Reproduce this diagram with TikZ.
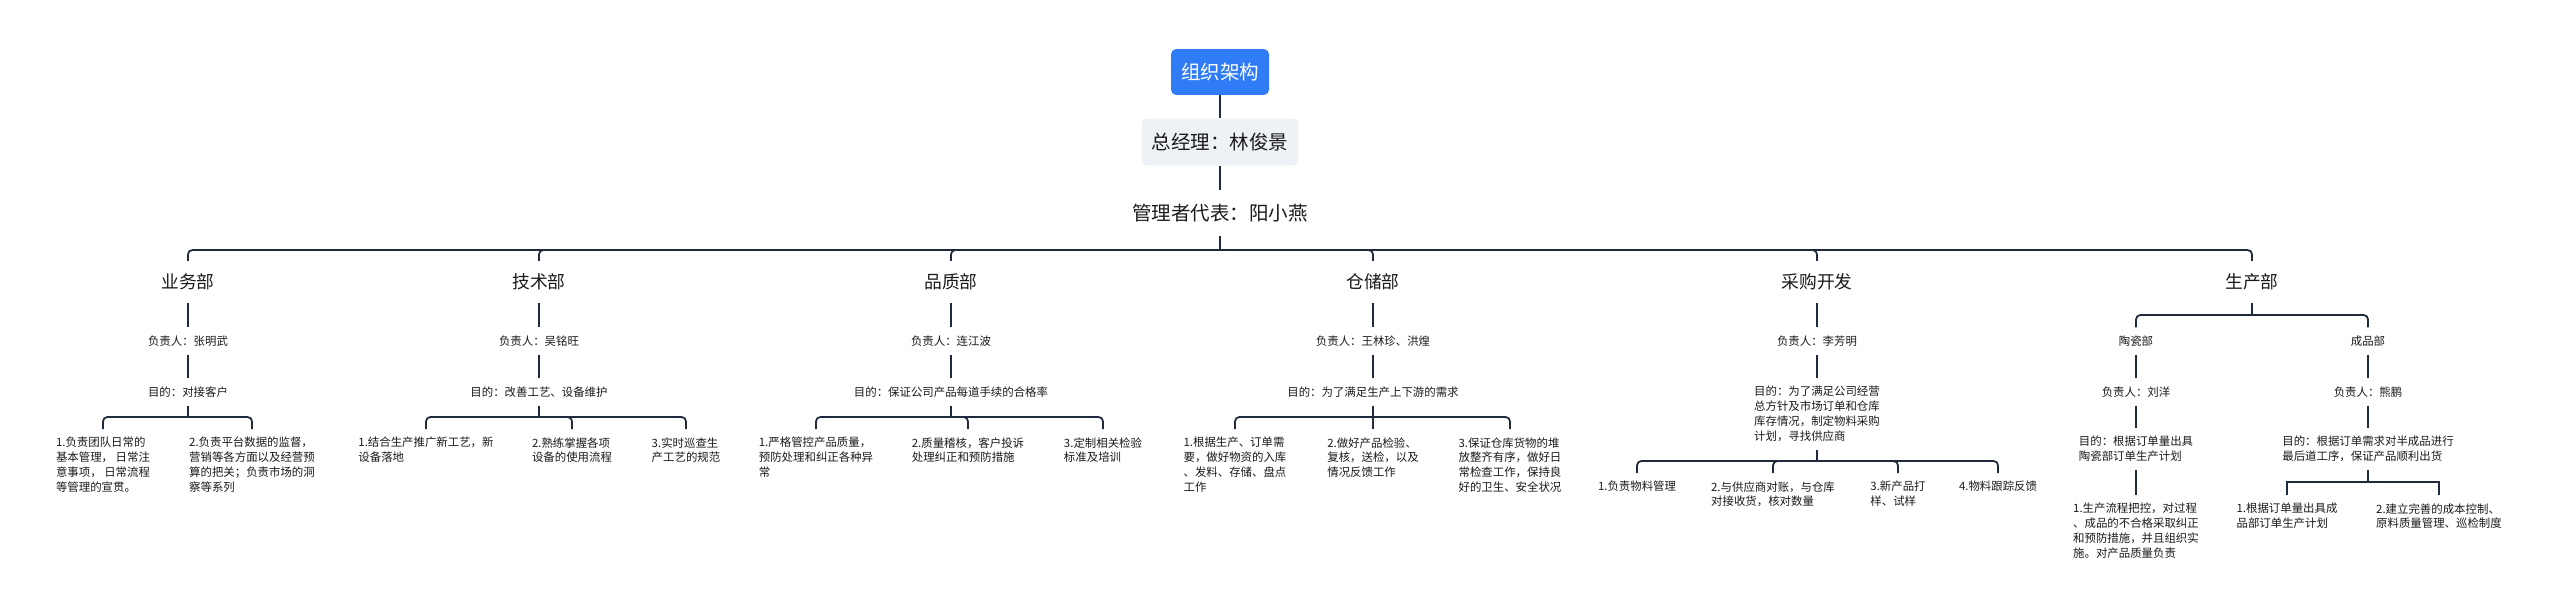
\documentclass[tikz,border=0pt]{standalone}
\usepackage{fontspec}
\newfontfamily\cjk{Noto Sans CJK SC}
\usetikzlibrary{positioning}
\definecolor{orgBlue}{HTML}{2F7CF6}
\definecolor{orgGray}{HTML}{EEF1F5}
\definecolor{orgLine}{HTML}{1F2A3C}
\definecolor{orgText}{HTML}{1A1A1A}
\newcommand{\orgBig}{\cjk\fontsize{11.1pt}{13pt}\selectfont}
\newcommand{\orgDept}{\cjk\fontsize{10.1pt}{12pt}\selectfont}
\newcommand{\orgSmall}{\cjk\fontsize{6.5pt}{8.5pt}\selectfont}

\begin{document}
\begin{tikzpicture}[
  x=0.02cm, y=-0.02cm,
  font=\orgSmall, text=orgText,
  conn/.style={draw=orgLine, line width=1pt},
  trunk/.style={draw=orgLine, line width=1.4pt},
  elbow/.style={conn, rounded corners=2.5pt},
  topbox/.style={fill=orgBlue, text=white, rounded corners=3pt, font=\orgBig, minimum width=1.96cm, minimum height=0.92cm},
  gmbox/.style={fill=orgGray, rounded corners=3pt, font=\orgBig, minimum width=3.14cm, minimum height=0.94cm},
  reptext/.style={font=\orgBig, inner ysep=0.27cm},
  depttext/.style={font=\orgDept, inner ysep=0.25cm},
  infotext/.style={font=\orgSmall, inner ysep=0.16cm},
  goaltext/.style={infotext, align=left, anchor=north},
  itemtext/.style={font=\orgSmall, inner ysep=0.16cm, align=left, anchor=north}
]

  \fill[white] (0,0) rectangle (2560,615);
  \useasboundingbox (0,0) rectangle (2560,615);

  % top of the chart
  \node[topbox] (root) at (1220,72) {组织架构};
  \node[gmbox] (gm) at (1220,142) {总经理：林俊景};
  \node[reptext] (rep) at (1220,213) {管理者代表：阳小燕};
  \coordinate (hub) at (1220,250);
  \draw[trunk] (root) -- (gm);
  \draw[trunk] (gm) -- (rep);
  \draw[conn] (rep) -- (hub);

  % departments
  \node[depttext] (yewu) at (188,282) {业务部};
  \node[depttext] (jishu) at (539,282) {技术部};
  \node[depttext] (pinzhi) at (951,282) {品质部};
  \node[depttext] (cangchu) at (1373,282) {仓储部};
  \node[depttext] (caigou) at (1817,282) {采购开发};
  \node[depttext] (shengchan) at (2252,282) {生产部};
  \foreach \d in {yewu,jishu,pinzhi,cangchu,caigou,shengchan}
    \draw[elbow] (hub) -| (\d.north);

  % 业务部
  \node[infotext] (yewuOwner) at (188,341) {负责人：张明武};
  \node[infotext] (yewuGoal) at (188,392) {目的：对接客户};
  \coordinate (yewuBar) at (188,417);
  \draw[conn] (yewu) -- (yewuOwner);
  \draw[conn] (yewuOwner) -- (yewuGoal);
  \draw[conn] (yewuGoal) -- (yewuBar);
  \node[itemtext] (yewuA) at (103,429) {1.负责团队日常的\\基本管理， 日常注\\意事项， 日常流程\\等管理的宣贯。};
  \node[itemtext] (yewuB) at (252,429) {2.负责平台数据的监督，\\营销等各方面以及经营预\\算的把关；负责市场的洞\\察等系列};
  \foreach \c in {yewuA,yewuB}
    \draw[elbow] (yewuBar) -| (\c.north);

  % 技术部
  \node[infotext] (jishuOwner) at (539,341) {负责人：吴铭旺};
  \node[infotext] (jishuGoal) at (539,392) {目的：改善工艺、设备维护};
  \coordinate (jishuBar) at (539,417);
  \draw[conn] (jishu) -- (jishuOwner);
  \draw[conn] (jishuOwner) -- (jishuGoal);
  \draw[conn] (jishuGoal) -- (jishuBar);
  \node[itemtext] (jishuA) at (426,429) {1.结合生产推广新工艺，新\\设备落地};
  \node[itemtext] (jishuB) at (572,429) {2.熟练掌握各项\\设备的使用流程};
  \node[itemtext] (jishuC) at (686,429) {3.实时巡查生\\产工艺的规范};
  \foreach \c in {jishuA,jishuB,jishuC}
    \draw[elbow] (jishuBar) -| (\c.north);

  % 品质部
  \node[infotext] (pinzhiOwner) at (951,341) {负责人：连江波};
  \node[infotext] (pinzhiGoal) at (951,392) {目的：保证公司产品每道手续的合格率};
  \coordinate (pinzhiBar) at (951,417);
  \draw[conn] (pinzhi) -- (pinzhiOwner);
  \draw[conn] (pinzhiOwner) -- (pinzhiGoal);
  \draw[conn] (pinzhiGoal) -- (pinzhiBar);
  \node[itemtext] (pinzhiA) at (816,429) {1.严格管控产品质量，\\预防处理和纠正各种异\\常};
  \node[itemtext] (pinzhiB) at (968,429) {2.质量稽核，客户投诉\\处理纠正和预防措施};
  \node[itemtext] (pinzhiC) at (1103,429) {3.定制相关检验\\标准及培训};
  \foreach \c in {pinzhiA,pinzhiB,pinzhiC}
    \draw[elbow] (pinzhiBar) -| (\c.north);

  % 仓储部
  \node[infotext] (cangchuOwner) at (1373,341) {负责人：王林珍、洪煌};
  \node[infotext] (cangchuGoal) at (1373,392) {目的：为了满足生产上下游的需求};
  \coordinate (cangchuBar) at (1373,417);
  \draw[conn] (cangchu) -- (cangchuOwner);
  \draw[conn] (cangchuOwner) -- (cangchuGoal);
  \draw[conn] (cangchuGoal) -- (cangchuBar);
  \node[itemtext] (cangchuA) at (1235,429) {1.根据生产、订单需\\要，做好物资的入库\\、发料、存储、盘点\\工作};
  \node[itemtext] (cangchuB) at (1373,429) {2.做好产品检验、\\复核，送检，以及\\情况反馈工作};
  \node[itemtext] (cangchuC) at (1510,429) {3.保证仓库货物的堆\\放整齐有序，做好日\\常检查工作，保持良\\好的卫生、安全状况};
  \draw[elbow] (cangchuBar) -| (cangchuA.north);
  \draw[conn] (cangchuBar) -- (cangchuB.north);
  \draw[elbow] (cangchuBar) -| (cangchuC.north);

  % 采购开发
  \node[infotext] (caigouOwner) at (1817,341) {负责人：李芳明};
  \node[goaltext] (caigouGoal) at (1817,378) {目的：为了满足公司经营\\总方针及市场订单和仓库\\库存情况，制定物料采购\\计划，寻找供应商};
  \coordinate (caigouBar) at (1817,461);
  \draw[conn] (caigou) -- (caigouOwner);
  \draw[conn] (caigouOwner) -- (caigouGoal);
  \draw[conn] (caigouGoal) -- (caigouBar);
  \node[itemtext] (caigouA) at (1637,473) {1.负责物料管理};
  \node[itemtext] (caigouB) at (1773,473) {2.与供应商对账，与仓库\\对接收货，核对数量};
  \node[itemtext] (caigouC) at (1898,473) {3.新产品打\\样、试样};
  \node[itemtext] (caigouD) at (1998,473) {4.物料跟踪反馈};
  \foreach \c in {caigouA,caigouB,caigouC,caigouD}
    \draw[elbow] (caigouBar) -| (\c.north);

  % 生产部
  \coordinate (shengchanBar) at (2252,315);
  \draw[conn] (shengchan) -- (shengchanBar);
  \node[infotext] (taoci) at (2136,341) {陶瓷部};
  \node[infotext] (chengpin) at (2368,341) {成品部};
  \draw[elbow] (shengchanBar) -| (taoci.north);
  \draw[elbow] (shengchanBar) -| (chengpin.north);

  \node[infotext] (taociOwner) at (2136,392) {负责人：刘洋};
  \node[goaltext] (taociGoal) at (2136,428) {目的：根据订单量出具\\陶瓷部订单生产计划};
  \node[itemtext] (taociA) at (2136,495) {1.生产流程把控，对过程\\、成品的不合格采取纠正\\和预防措施，并且组织实\\施。对产品质量负责};
  \draw[conn] (taoci) -- (taociOwner);
  \draw[conn] (taociOwner) -- (taociGoal);
  \draw[conn] (taociGoal) -- (taociA);

  \node[infotext] (chengpinOwner) at (2368,392) {负责人：熊鹏};
  \node[goaltext] (chengpinGoal) at (2368,428) {目的：根据订单需求对半成品进行\\最后道工序，保证产品顺利出货};
  \coordinate (chengpinBar) at (2368,482);
  \draw[conn] (chengpin) -- (chengpinOwner);
  \draw[conn] (chengpinOwner) -- (chengpinGoal);
  \draw[conn] (chengpinGoal) -- (chengpinBar);
  \node[itemtext] (chengpinA) at (2287,495) {1.根据订单量出具成\\品部订单生产计划};
  \node[itemtext] (chengpinB) at (2439,495) {2.建立完善的成本控制、\\原料质量管理、巡检制度};
  \draw[conn] (chengpinBar) -| (chengpinA.north);
  \draw[conn] (chengpinBar) -| (chengpinB.north);

\end{tikzpicture}
\end{document}
